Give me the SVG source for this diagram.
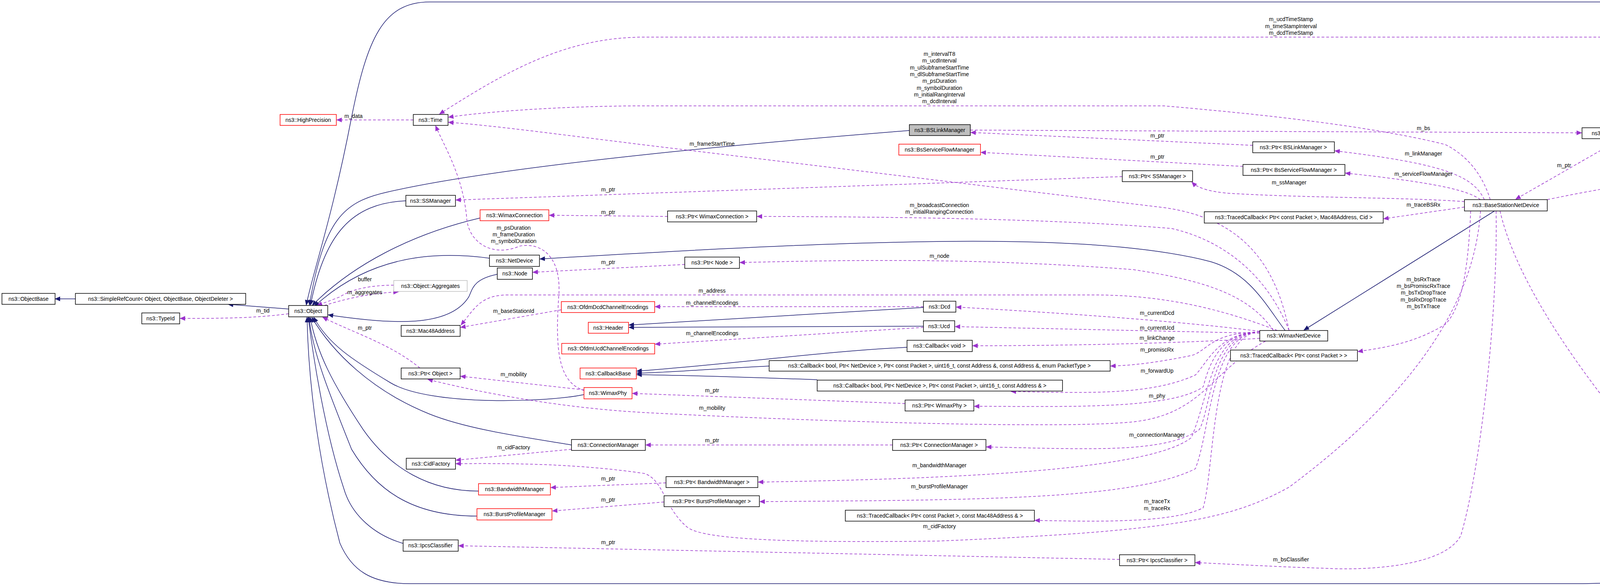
<svg xmlns="http://www.w3.org/2000/svg" width="4947" height="1500" viewBox="0 0 4947 1500">
<style>
text{font-family:"Liberation Sans",Arial,sans-serif;font-size:14px;fill:#000}
.n text{text-anchor:middle}
.b{fill:#fff;stroke:#000;stroke-width:1.5}
.r{fill:#fff;stroke:#ff0000;stroke-width:1.5}
.g{fill:#fff;stroke:#bfbfbf;stroke-width:1.5}
.s{fill:#bfbfbf;stroke:#000;stroke-width:1.5}
.i{fill:none;stroke:#191970;stroke-width:1.5;marker-end:url(#ai)}
.u{fill:none;stroke:#9a32cd;stroke-width:1.5;stroke-dasharray:7,5;marker-end:url(#au)}
.l{text-anchor:middle}
</style>
<defs>
<marker id="ai" markerWidth="14" markerHeight="12" refX="13" refY="6" orient="auto" markerUnits="userSpaceOnUse"><path d="M0,0 L14,6 L0,12 z" fill="#191970"/></marker>
<marker id="au" markerWidth="14" markerHeight="12" refX="13" refY="6" orient="auto" markerUnits="userSpaceOnUse"><path d="M0,0 L14,6 L0,12 z" fill="#9a32cd"/></marker>
</defs>
<rect width="4947" height="1500" fill="#fff"/>
<g id="edges">
<path class="i" d="M4560,152 C4480,30 4420,5 4300,5 L1100,5 C980,5 940,100 900,300 C850,560 800,700 784,781"/>
<path class="i" d="M2328,334 C2000,360 1300,420 990,492 C880,517 830,560 792,781"/>
<path class="i" d="M1039,514 C900,520 830,600 795,781"/>
<path class="i" d="M1229,558 C1050,600 900,680 799,782"/>
<path class="i" d="M1253,661 C1100,640 940,660 805,784"/>
<path class="i" d="M1273,702 C1210,715 1210,740 1200,760 C1150,840 1000,830 840,806"/>
<path class="i" d="M1495,1010 C1400,1030 1100,1040 1000,980 C900,920 840,880 803,812"/>
<path class="i" d="M1463,1139 C1350,1120 1200,1100 1100,1060 C950,1000 850,900 798,812"/>
<path class="i" d="M1225,1257 C1100,1257 1000,1200 930,1100 C850,980 810,900 794,812"/>
<path class="i" d="M1221,1321 C1050,1321 960,1250 900,1150 C840,1000 800,900 791,812"/>
<path class="i" d="M1032,1391 C960,1370 900,1320 880,1250 C830,1100 800,900 789,812"/>
<path class="i" d="M4495,1400 C4400,1420 4340,1440 4300,1460 C4200,1494 4100,1494 4000,1494 L1050,1494 C950,1494 900,1460 870,1390 C820,1200 790,1000 786,812"/>
<path class="i" d="M739,791 L584,779"/>
<path class="i" d="M193,765 L141,765"/>
<path class="i" d="M3290,846 C3240,780 3200,700 3100,670 C2950,630 2700,610 2300,620 C2000,626 1600,650 1382,663"/>
<path class="i" d="M3826,540 L3338,845"/>
<path class="i" d="M2364,787 L1610,832"/>
<path class="i" d="M2364,835 L1610,838"/>
<path class="i" d="M2322,889 C2100,900 1900,930 1630,950"/>
<path class="i" d="M1969,937 C1800,945 1700,955 1630,955"/>
<path class="i" d="M2092,972 C1900,965 1700,960 1630,959"/>

<path class="u" d="M1058,307 L862,307"/>
<path class="u" d="M739,803 C650,815 560,815 461,815"/>
<path class="u" d="M1008,730 C950,730 900,740 870,760 L812,782"/>
<path class="u" d="M830,782 C900,760 960,750 1020,747"/>
<path class="u" d="M1075,942 C1000,880 900,850 826,812"/>
<path class="u" d="M4547,152 C4450,110 4350,95 4200,95 L1650,95 C1450,95 1300,180 1125,292"/>
<path class="u" d="M3815,511 C3790,430 3740,390 3700,370 C3500,320 3200,290 2980,271 L1650,271 C1450,271 1250,285 1148,300"/>
<path class="u" d="M3300,846 C3270,700 3200,560 2976,531 L1650,371 C1400,340 1250,320 1148,313"/>
<path class="u" d="M1497,1000 C1430,980 1420,900 1431,750 C1435,650 1380,620 1330,630 C1260,660 1200,620 1195,560 C1185,450 1140,380 1115,322"/>
<path class="u" d="M2873,452 L1167,512"/>
<path class="u" d="M1709,554 L1406,551"/>
<path class="u" d="M1753,677 L1364,697"/>
<path class="u" d="M3270,846 C3150,800 3000,755 2800,755 L1300,755 C1230,755 1215,790 1180,832"/>
<path class="u" d="M1437,793 L1179,838"/>
<path class="u" d="M2364,785 L1677,785"/>
<path class="u" d="M2364,838 L1677,881"/>
<path class="u" d="M1495,998 L1179,963"/>
<path class="u" d="M3240,873 C3100,950 3080,1060 2900,1080 C2700,1100 2000,1075 1650,1056 C1450,1045 1250,1010 1095,971"/>
<path class="u" d="M1463,1150 L1167,1178"/>
<path class="u" d="M3790,540 C3780,700 3700,950 3300,1247 C3150,1330 3000,1360 2400,1385 C2000,1390 1800,1380 1760,1350 C1700,1300 1700,1230 1650,1212 C1500,1190 1350,1185 1167,1187"/>
<path class="u" d="M2285,1139 L1653,1139"/>
<path class="u" d="M2317,1033 L1619,1007"/>
<path class="u" d="M1705,1236 L1410,1248"/>
<path class="u" d="M1700,1285 L1414,1308"/>
<path class="u" d="M2866,1432 L1174,1397"/>
<path class="u" d="M3225,848 C3000,820 2700,800 2448,786"/>
<path class="u" d="M3225,853 L2445,836"/>
<path class="u" d="M3225,866 C3000,880 2700,885 2490,885"/>
<path class="u" d="M3225,850 C3100,850 3090,900 3050,910 C2950,930 2900,935 2843,937"/>
<path class="u" d="M3225,850 C3120,850 3090,930 3060,960 C2950,1010 2800,1007 2588,1002"/>
<path class="u" d="M3225,850 C3110,850 3090,960 3080,990 C3000,1050 2700,1040 2494,1040"/>
<path class="u" d="M3225,850 C3100,850 3100,1050 3070,1100 C2980,1160 2800,1150 2525,1144"/>
<path class="u" d="M3225,850 C3100,850 3100,1000 3050,1120 C2950,1200 2500,1225 1941,1234"/>
<path class="u" d="M3225,850 C3100,850 3100,1100 3060,1200 C2900,1280 2500,1280 1945,1284"/>
<path class="u" d="M3225,850 C3100,850 3110,1200 3080,1300 C3000,1340 2800,1335 2649,1332"/>
<path class="u" d="M3300,846 C3250,720 3150,620 3000,585 C2700,560 2300,555 1938,554"/>
<path class="u" d="M3260,846 C3200,760 3100,720 2900,690 C2500,660 2200,665 1894,672"/>
<path class="u" d="M2484,333 L4049,340"/>
<path class="u" d="M3800,511 C3770,450 3700,420 3417,386"/>
<path class="u" d="M3790,511 C3760,490 3700,470 3444,443"/>
<path class="u" d="M3749,516 C3600,505 3350,507 3150,495 C3080,490 3060,475 3051,466"/>
<path class="u" d="M3749,530 L3542,560"/>
<path class="u" d="M3961,511 C4300,440 4600,420 4732,415"/>
<path class="u" d="M3765,540 C3760,650 3750,780 3700,830 C3620,880 3540,890 3476,900"/>
<path class="u" d="M3830,540 C3835,800 3790,1200 3740,1370 C3700,1450 3500,1460 3400,1455 C3250,1450 3150,1444 3060,1440"/>
<path class="u" d="M3840,540 C3900,800 4200,1150 4400,1360 C4500,1460 4650,1460 4775,1437"/>
<path class="u" d="M4150,355 L3880,510"/>
<path class="u" d="M4530,180 L4215,326"/>
<path class="u" d="M4560,1379 L4190,356"/>
<path class="u" d="M4815,387 L4585,181"/>
<path class="u" d="M4744,1413 L4634,1397"/>
<path class="u" d="M3207,372 L2485,339"/>
<path class="u" d="M3182,426 L2511,390"/>
</g>
<g id="labels">
<text class="l" x="905" y="302">m_data</text>
<text class="l" x="673" y="800">m_tid</text>
<text class="l" x="934" y="720">buffer</text>
<text class="l" x="934" y="753">m_aggregates</text>
<text class="l" x="934" y="844">m_ptr</text>
<text class="l" x="3305" y="54">m_ucdTimeStamp</text>
<text class="l" x="3305" y="72">m_timeStampInterval</text>
<text class="l" x="3305" y="89">m_dcdTimeStamp</text>
<text class="l" x="2405" y="143">m_intervalT8</text>
<text class="l" x="2405" y="160">m_ucdInterval</text>
<text class="l" x="2405" y="178">m_ulSubframeStartTime</text>
<text class="l" x="2405" y="195">m_dlSubframeStartTime</text>
<text class="l" x="2405" y="212">m_psDuration</text>
<text class="l" x="2405" y="230">m_symbolDuration</text>
<text class="l" x="2405" y="247">m_initialRangInterval</text>
<text class="l" x="2405" y="264">m_dcdInterval</text>
<text class="l" x="1823" y="373">m_frameStartTime</text>
<text class="l" x="1315" y="588">m_psDuration</text>
<text class="l" x="1315" y="605">m_frameDuration</text>
<text class="l" x="1315" y="622">m_symbolDuration</text>
<text class="l" x="1557" y="490">m_ptr</text>
<text class="l" x="1557" y="548">m_ptr</text>
<text class="l" x="1557" y="676">m_ptr</text>
<text class="l" x="1823" y="749">m_address</text>
<text class="l" x="1315" y="801">m_baseStationId</text>
<text class="l" x="1823" y="780">m_channelEncodings</text>
<text class="l" x="1823" y="858">m_channelEncodings</text>
<text class="l" x="1315" y="963">m_mobility</text>
<text class="l" x="1823" y="1049">m_mobility</text>
<text class="l" x="1315" y="1150">m_cidFactory</text>
<text class="l" x="2405" y="1352">m_cidFactory</text>
<text class="l" x="1823" y="1132">m_ptr</text>
<text class="l" x="1823" y="1004">m_ptr</text>
<text class="l" x="1557" y="1230">m_ptr</text>
<text class="l" x="1557" y="1284">m_ptr</text>
<text class="l" x="1557" y="1393">m_ptr</text>
<text class="l" x="2962" y="806">m_currentDcd</text>
<text class="l" x="2962" y="844">m_currentUcd</text>
<text class="l" x="2962" y="870">m_linkChange</text>
<text class="l" x="2962" y="900">m_promiscRx</text>
<text class="l" x="2962" y="954">m_forwardUp</text>
<text class="l" x="2962" y="1018">m_phy</text>
<text class="l" x="2962" y="1118">m_connectionManager</text>
<text class="l" x="2405" y="1196">m_bandwidthManager</text>
<text class="l" x="2405" y="1250">m_burstProfileManager</text>
<text class="l" x="2962" y="1288">m_traceTx</text>
<text class="l" x="2962" y="1306">m_traceRx</text>
<text class="l" x="2405" y="530">m_broadcastConnection</text>
<text class="l" x="2405" y="547">m_initialRangingConnection</text>
<text class="l" x="2405" y="660">m_node</text>
<text class="l" x="3644" y="333">m_bs</text>
<text class="l" x="3644" y="398">m_linkManager</text>
<text class="l" x="3644" y="450">m_serviceFlowManager</text>
<text class="l" x="3300" y="472">m_ssManager</text>
<text class="l" x="3644" y="529">m_traceBSRx</text>
<text class="l" x="4399" y="445">m_uplinkScheduler</text>
<text class="l" x="3644" y="720">m_bsRxTrace</text>
<text class="l" x="3644" y="737">m_bsPromiscRxTrace</text>
<text class="l" x="3644" y="754">m_bsTxDropTrace</text>
<text class="l" x="3644" y="772">m_bsRxDropTrace</text>
<text class="l" x="3644" y="789">m_bsTxTrace</text>
<text class="l" x="3305" y="1437">m_bsClassifier</text>
<text class="l" x="4399" y="1309">m_scheduler</text>
<text class="l" x="4004" y="428">m_ptr</text>
<text class="l" x="4399" y="213">m_bs</text>
<text class="l" x="4399" y="768">m_bs</text>
<text class="l" x="4689" y="252">m_ptr</text>
<text class="l" x="4689" y="1396">m_ptr</text>
<text class="l" x="2963" y="352">m_ptr</text>
<text class="l" x="2963" y="406">m_ptr</text>
</g>
<g class="n">
<g id="n_highprecision"><rect class="r" x="717" y="293" width="144" height="28"/><text x="789" y="312">ns3::HighPrecision</text></g>
<g id="n_time"><rect class="b" x="1058" y="293" width="89" height="28"/><text x="1102" y="312">ns3::Time</text></g>
<g id="n_ssmanager"><rect class="b" x="1039" y="500" width="127" height="28"/><text x="1102" y="519">ns3::SSManager</text></g>
<g id="n_wimaxconnection"><rect class="r" x="1229" y="537" width="176" height="28"/><text x="1317" y="556">ns3::WimaxConnection</text></g>
<g id="n_netdevice"><rect class="b" x="1253" y="653" width="128" height="29"/><text x="1317" y="672">ns3::NetDevice</text></g>
<g id="n_node"><rect class="b" x="1273" y="686" width="90" height="29"/><text x="1318" y="705">ns3::Node</text></g>
<g id="n_aggregates"><rect class="g" x="1008" y="718" width="188" height="28"/><text x="1102" y="737">ns3::Object::Aggregates</text></g>
<g id="n_objectbase"><rect class="b" x="5" y="751" width="136" height="28"/><text x="73" y="770">ns3::ObjectBase</text></g>
<g id="n_simplerefcount"><rect class="b" x="193" y="751" width="436" height="28"/><text x="411" y="770">ns3::SimpleRefCount&lt; Object, ObjectBase, ObjectDeleter &gt;</text></g>
<g id="n_typeid"><rect class="b" x="363" y="801" width="97" height="28"/><text x="411" y="820">ns3::TypeId</text></g>
<g id="n_object"><rect class="b" x="739" y="782" width="100" height="29"/><text x="789" y="801">ns3::Object</text></g>
<g id="n_mac48"><rect class="b" x="1027" y="833" width="151" height="28"/><text x="1102" y="852">ns3::Mac48Address</text></g>
<g id="n_ofdmdcd"><rect class="r" x="1437" y="772" width="239" height="28"/><text x="1556" y="791">ns3::OfdmDcdChannelEncodings</text></g>
<g id="n_header"><rect class="r" x="1506" y="825" width="103" height="28"/><text x="1557" y="844">ns3::Header</text></g>
<g id="n_ofdmucd"><rect class="r" x="1438" y="879" width="238" height="27"/><text x="1557" y="897">ns3::OfdmUcdChannelEncodings</text></g>
<g id="n_callbackbase"><rect class="r" x="1485" y="942" width="144" height="28"/><text x="1557" y="961">ns3::CallbackBase</text></g>
<g id="n_wimaxphy"><rect class="r" x="1495" y="992" width="123" height="29"/><text x="1556" y="1011">ns3::WimaxPhy</text></g>
<g id="n_ptrobject"><rect class="b" x="1027" y="942" width="151" height="28"/><text x="1102" y="961">ns3::Ptr&lt; Object &gt;</text></g>
<g id="n_connectionmanager"><rect class="b" x="1463" y="1125" width="189" height="28"/><text x="1557" y="1144">ns3::ConnectionManager</text></g>
<g id="n_cidfactory"><rect class="b" x="1040" y="1173" width="126" height="28"/><text x="1103" y="1192">ns3::CidFactory</text></g>
<g id="n_bandwidthmanager"><rect class="r" x="1225" y="1238" width="184" height="29"/><text x="1317" y="1257">ns3::BandwidthManager</text></g>
<g id="n_burstprofilemanager"><rect class="r" x="1221" y="1302" width="192" height="29"/><text x="1317" y="1321">ns3::BurstProfileManager</text></g>
<g id="n_ipcsclassifier"><rect class="b" x="1032" y="1382" width="141" height="29"/><text x="1102" y="1401">ns3::IpcsClassifier</text></g>
<g id="n_bslinkmanager"><rect class="s" x="2328" y="319" width="156" height="28"/><text x="2406" y="338">ns3::BSLinkManager</text></g>
<g id="n_bsserviceflowmanager"><rect class="r" x="2301" y="369" width="209" height="28"/><text x="2405" y="388">ns3::BsServiceFlowManager</text></g>
<g id="n_ptrssmanager"><rect class="b" x="2873" y="437" width="180" height="28"/><text x="2963" y="456">ns3::Ptr&lt; SSManager &gt;</text></g>
<g id="n_ptrwimaxconnection"><rect class="b" x="1709" y="540" width="228" height="28"/><text x="1823" y="559">ns3::Ptr&lt; WimaxConnection &gt;</text></g>
<g id="n_ptrnode"><rect class="b" x="1753" y="658" width="140" height="29"/><text x="1823" y="677">ns3::Ptr&lt; Node &gt;</text></g>
<g id="n_ptrbslinkmanager"><rect class="b" x="3207" y="363" width="209" height="28"/><text x="3311" y="382">ns3::Ptr&lt; BSLinkManager &gt;</text></g>
<g id="n_ptrbsserviceflowmanager"><rect class="b" x="3182" y="421" width="261" height="28"/><text x="3312" y="440">ns3::Ptr&lt; BsServiceFlowManager &gt;</text></g>
<g id="n_tracedcid"><rect class="b" x="3083" y="542" width="458" height="29"/><text x="3312" y="561">ns3::TracedCallback&lt; Ptr&lt; const Packet &gt;, Mac48Address, Cid &gt;</text></g>
<g id="n_dcd"><rect class="b" x="2364" y="771" width="83" height="28"/><text x="2405" y="790">ns3::Dcd</text></g>
<g id="n_ucd"><rect class="b" x="2364" y="821" width="80" height="28"/><text x="2404" y="840">ns3::Ucd</text></g>
<g id="n_callbackvoid"><rect class="b" x="2322" y="871" width="167" height="29"/><text x="2405" y="890">ns3::Callback&lt; void &gt;</text></g>
<g id="n_callbackpromisc"><rect class="b" x="1969" y="923" width="873" height="27"/><text x="2405" y="941">ns3::Callback&lt; bool, Ptr&lt; NetDevice &gt;, Ptr&lt; const Packet &gt;, uint16_t, const Address &amp;, const Address &amp;, enum PacketType &gt;</text></g>
<g id="n_callbackforward"><rect class="b" x="2092" y="973" width="628" height="28"/><text x="2406" y="992">ns3::Callback&lt; bool, Ptr&lt; NetDevice &gt;, Ptr&lt; const Packet &gt;, uint16_t, const Address &amp; &gt;</text></g>
<g id="n_ptrwimaxphy"><rect class="b" x="2317" y="1024" width="176" height="28"/><text x="2405" y="1043">ns3::Ptr&lt; WimaxPhy &gt;</text></g>
<g id="n_ptrconnectionmanager"><rect class="b" x="2285" y="1125" width="239" height="28"/><text x="2404" y="1144">ns3::Ptr&lt; ConnectionManager &gt;</text></g>
<g id="n_ptrbandwidthmanager"><rect class="b" x="1705" y="1220" width="235" height="28"/><text x="1822" y="1239">ns3::Ptr&lt; BandwidthManager &gt;</text></g>
<g id="n_ptrburstprofilemanager"><rect class="b" x="1700" y="1269" width="244" height="28"/><text x="1822" y="1288">ns3::Ptr&lt; BurstProfileManager &gt;</text></g>
<g id="n_tracedmac"><rect class="b" x="2164" y="1306" width="484" height="28"/><text x="2406" y="1325">ns3::TracedCallback&lt; Ptr&lt; const Packet &gt;, const Mac48Address &amp; &gt;</text></g>
<g id="n_ptripcsclassifier"><rect class="b" x="2866" y="1420" width="193" height="28"/><text x="2962" y="1439">ns3::Ptr&lt; IpcsClassifier &gt;</text></g>
<g id="n_wimaxnetdevice"><rect class="b" x="3225" y="846" width="174" height="27"/><text x="3312" y="864">ns3::WimaxNetDevice</text></g>
<g id="n_tracedpacket"><rect class="b" x="3150" y="896" width="325" height="28"/><text x="3312" y="915">ns3::TracedCallback&lt; Ptr&lt; const Packet &gt; &gt;</text></g>
<g id="n_uplinkscheduler"><rect class="b" x="4486" y="152" width="159" height="28"/><text x="4565" y="171">ns3::UplinkScheduler</text></g>
<g id="n_ptrbsnd"><rect class="b" x="4050" y="327" width="263" height="28"/><text x="4181" y="346">ns3::Ptr&lt; BaseStationNetDevice &gt;</text></g>
<g id="n_ptruplinkscheduler"><rect class="b" x="4733" y="387" width="210" height="29"/><text x="4838" y="406">ns3::Ptr&lt; UplinkScheduler &gt;</text></g>
<g id="n_bsnd"><rect class="b" x="3749" y="511" width="212" height="29"/><text x="3855" y="530">ns3::BaseStationNetDevice</text></g>
<g id="n_bsscheduler"><rect class="b" x="4495" y="1379" width="138" height="29"/><text x="4564" y="1398">ns3::BSScheduler</text></g>
<g id="n_ptrbsscheduler"><rect class="b" x="4744" y="1408" width="189" height="28"/><text x="4838" y="1427">ns3::Ptr&lt; BSScheduler &gt;</text></g>
</g>
</svg>
